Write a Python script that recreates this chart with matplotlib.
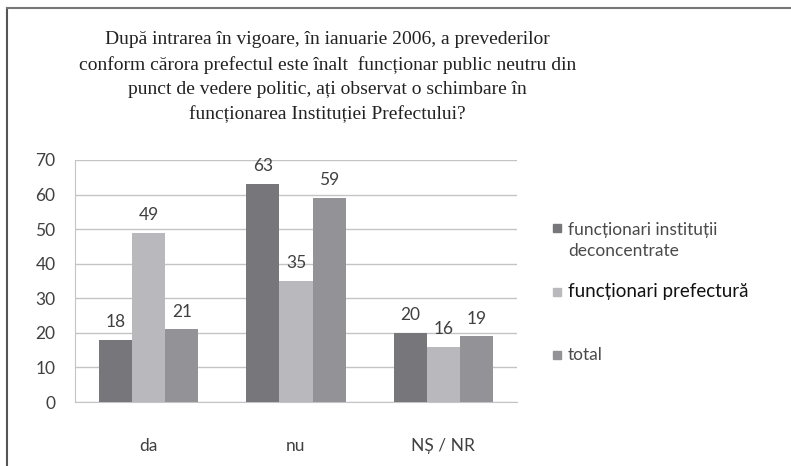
import numpy as np
import matplotlib.pyplot as plt
from matplotlib.lines import Line2D
from matplotlib.patches import Rectangle

categories = ['da', 'nu', 'NȘ / NR']
series_names = ['funcționari instituții\ndeconcentrate', 'funcționari prefectură', 'total']
inst = [18, 63, 20]
pref = [49, 35, 16]
total = [21, 59, 19]

colors = ['#77777b', '#b9b9bd', '#939397']
sans = ['Lato', 'DejaVu Sans']

fig = plt.figure(figsize=(7.91, 4.66), dpi=100)
ax = fig.add_axes([0.0948, 0.1373, 0.5588, 0.5194])

x = np.arange(len(categories))
w = 0.225
for i, vals in enumerate([inst, pref, total]):
    bars = ax.bar(x + (i - 1) * w, vals, w, color=colors[i], zorder=3)
    for b, v in zip(bars, vals):
        ax.annotate(str(v), (b.get_x() + b.get_width() / 2, v), xytext=(0, 7),
                    textcoords='offset points', ha='center', va='bottom',
                    fontsize=12.5, color='#404040', family=sans)

ax.set_xlim(-0.5, 2.5)
ax.set_ylim(0, 70)
ax.set_yticks(range(0, 71, 10))
ax.set_xticks(x)
ax.set_xticklabels(categories)
ax.yaxis.grid(True, color='#c4c4c4', linewidth=1, zorder=0)
ax.tick_params(length=0, labelsize=12.5, labelcolor='#404040')
ax.tick_params(axis='y', pad=14)
ax.tick_params(axis='x', pad=26)
for lab in ax.get_xticklabels() + ax.get_yticklabels():
    lab.set_family(sans)
for s in ['top', 'right']:
    ax.spines[s].set_visible(False)
for s in ['left', 'bottom']:
    ax.spines[s].set_color('#c4c4c4')

# title
fig.text(0.414, 1 - 31 / 466, 'După intrarea în vigoare, în ianuarie 2006, a prevederilor\n'
         'conform cărora prefectul este înalt  funcționar public neutru din\n'
         'punct de vedere politic, ați observat o schimbare în\n'
         'funcționarea Instituției Prefectului?',
         ha='center', va='top', fontsize=14, family='Liberation Serif',
         color='#222222', linespacing=1.55)

# legend
leg_y = [228, 292, 355]
for i, (name, yy) in enumerate(zip(series_names, leg_y)):
    fig.patches.append(Rectangle((553 / 791, 1 - (yy + 4) / 466), 8 / 791, 8 / 466,
                                 transform=fig.transFigure, color=colors[i]))
    fig.text(568 / 791, 1 - (yy - 6) / 466 if i == 0 else 1 - yy / 466, name,
             ha='left', va='top' if i == 0 else 'center',
             fontsize=12.5 if i != 1 else 13.5, family=sans,
             color='#4a4a4a' if i != 1 else '#111111',
             linespacing=1.4)

# frame
fig.lines.append(Line2D([7 / 791, 7 / 791], [0, 1 - 8 / 466], transform=fig.transFigure,
                        color='#555555', linewidth=1.5))
fig.lines.append(Line2D([7 / 791, 1], [1 - 8 / 466, 1 - 8 / 466], transform=fig.transFigure,
                        color='#777777', linewidth=1.5))

fig.savefig('out.png', dpi=100)
